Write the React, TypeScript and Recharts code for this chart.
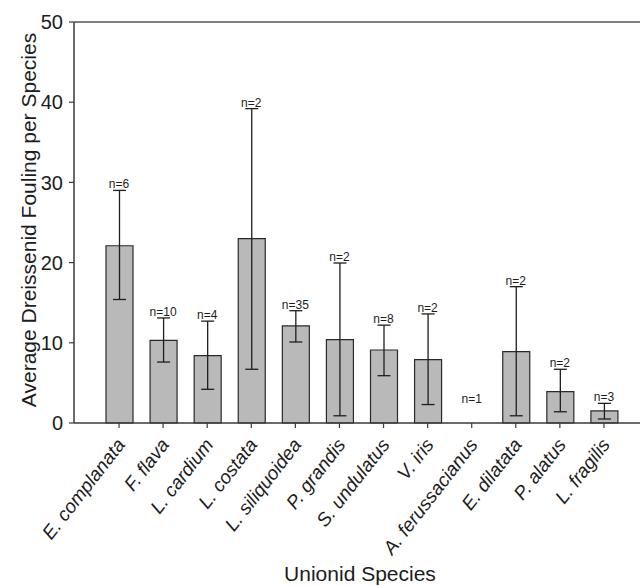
import React from 'react';
import {
  ComposedChart,
  Bar,
  Line,
  XAxis,
  YAxis,
  ErrorBar,
  LabelList,
  ReferenceLine,
  Label,
} from 'recharts';

const species = [
  'E. complanata',
  'F. flava',
  'L. cardium',
  'L. costata',
  'L. siliquoidea',
  'P. grandis',
  'S. undulatus',
  'V. iris',
  'A. ferussacianus',
  'E. dilatata',
  'P. alatus',
  'L. fragilis',
];
const meanFouling = [22.1, 10.3, 8.4, 23.0, 12.1, 10.4, 9.1, 7.9, 0, 8.9, 3.9, 1.5];
const errorTop = [29.0, 13.1, 12.7, 39.2, 14.0, 19.95, 12.2, 13.6, 0, 17.0, 6.7, 2.45];
const errorBottom = [15.4, 7.6, 4.2, 6.7, 10.1, 0.9, 5.9, 2.3, 0, 0.9, 1.4, 0.5];
const sampleSizes = ['n=6', 'n=10', 'n=4', 'n=2', 'n=35', 'n=2', 'n=8', 'n=2', 'n=1', 'n=2', 'n=2', 'n=3'];
const nLabelAt = [29.0, 13.1, 12.7, 39.2, 14.0, 19.95, 12.2, 13.6, 2.25, 17.0, 6.7, 2.45];
const yTicks = [0, 10, 20, 30, 40, 50];

const data = species.map((name, i) => ({
  name,
  mean: meanFouling[i] > 0 ? meanFouling[i] : null,
  err: meanFouling[i] > 0 ? [meanFouling[i] - errorBottom[i], errorTop[i] - meanFouling[i]] : null,
  n: sampleSizes[i],
  labelAt: nLabelAt[i],
}));

const FONT = '"Liberation Sans", Arial, Helvetica, sans-serif';
const TEXT = '#1c1c1c';
const AXIS = '#3a3a3a';

const XTick = (props: any) => {
  const { x, y, payload } = props;
  const ax = x + 7;
  const ay = y + 15;
  return (
    <text
      x={ax}
      y={ay}
      textAnchor="end"
      transform={`rotate(-52, ${ax}, ${ay})`}
      fontFamily={FONT}
      fontStyle="italic"
      fontSize={19}
      fill={TEXT}
    >
      {payload.value}
    </text>
  );
};

const NLabel = (props: any) => {
  const { x, y, value } = props;
  return (
    <text x={x} y={y - 2} textAnchor="middle" fontFamily={FONT} fontSize={12} fill={TEXT}>
      {value}
    </text>
  );
};

export default function App() {
  return (
    <div
      style={{
        position: 'fixed',
        left: 0,
        top: 0,
        width: 640,
        height: 586,
        overflow: 'hidden',
        background: '#fff',
      }}
    >
      <ComposedChart
        width={690}
        height={586}
        data={data}
        margin={{ top: 22, right: 41, bottom: 0, left: 0 }}
      >
        <ReferenceLine y={50} stroke="#555" strokeWidth={1.6} />
        <XAxis
          dataKey="name"
          type="category"
          interval={0}
          height={163}
          padding={{ left: 23, right: 23 }}
          tickSize={5}
          tickMargin={2}
          tick={<XTick />}
          axisLine={{ stroke: AXIS, strokeWidth: 1.5 }}
          tickLine={{ stroke: AXIS, strokeWidth: 1.2 }}
        >
          <Label
            content={() => (
              <text x={360} y={581} textAnchor="middle" fontFamily={FONT} fontSize={21} fill={TEXT}>
                Unionid Species
              </text>
            )}
          />
        </XAxis>
        <YAxis
          type="number"
          domain={[0, 50]}
          ticks={yTicks}
          width={74}
          tickSize={5}
          tickMargin={6}
          tick={{ fontFamily: FONT, fontSize: 20, fill: TEXT }}
          axisLine={{ stroke: AXIS, strokeWidth: 1.5 }}
          tickLine={{ stroke: AXIS, strokeWidth: 1.2 }}
        >
          <Label
            content={() => (
              <text
                x={36}
                y={220}
                textAnchor="middle"
                transform="rotate(-90, 36, 220)"
                fontFamily={FONT}
                fontSize={21}
                fill={TEXT}
              >
                Average Dreissenid Fouling per Species
              </text>
            )}
          />
        </YAxis>
        <Bar
          dataKey="mean"
          barSize={27}
          fill="#b9b9b9"
          stroke="#2a2a2a"
          strokeWidth={1.2}
          isAnimationActive={false}
        >
          <ErrorBar dataKey="err" width={6.5} stroke="#1e1e1e" strokeWidth={1.3} direction="y" />
        </Bar>
        <Line
          dataKey="labelAt"
          stroke="none"
          dot={false}
          activeDot={false}
          legendType="none"
          isAnimationActive={false}
        >
          <LabelList dataKey="n" content={<NLabel />} />
        </Line>
      </ComposedChart>
    </div>
  );
}
